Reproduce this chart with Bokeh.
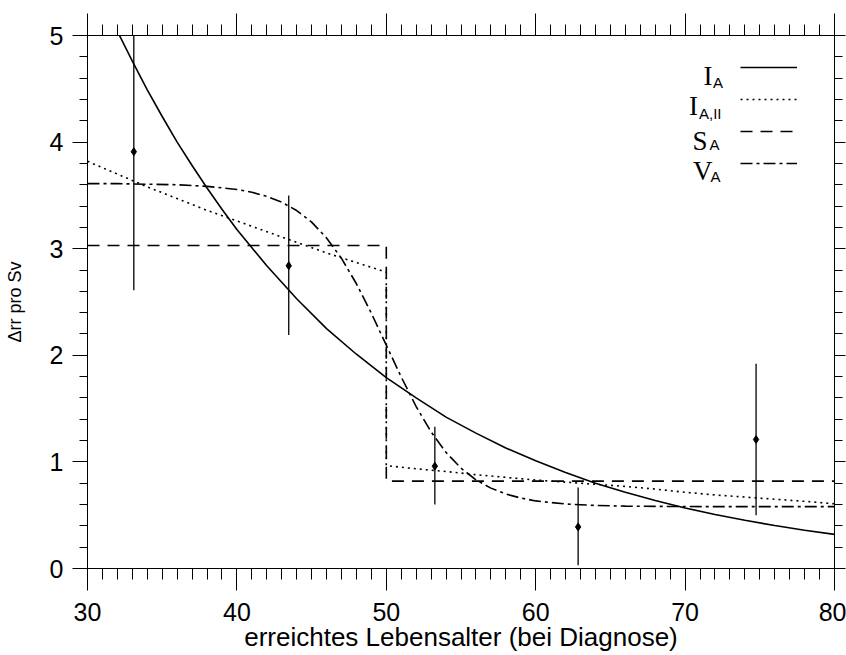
from bokeh.plotting import figure
from bokeh.models import (Range1d, LinearAxis, SingleIntervalTicker, Legend,
                          LegendItem, Label)
from bokeh.embed import file_html
from bokeh.resources import INLINE

# ---------------- data ----------------
pt_x = [33.1, 43.47, 53.25, 62.84, 74.75]
pt_y = [3.91, 2.84, 0.96, 0.39, 1.21]
pt_lo = [2.61, 2.19, 0.60, 0.03, 0.50]
pt_hi = [5.21, 3.50, 1.33, 0.76, 1.92]

ia_x = [30, 31, 32, 33, 34, 35, 36, 37, 38, 39, 40, 42, 44, 46, 48, 50, 52,
        54, 56, 58, 60, 62, 64, 66, 68, 70, 72, 74, 76, 78, 80]
ia_y = [5.65, 5.33, 5.04, 4.76, 4.49, 4.24, 4.00, 3.78, 3.57, 3.37, 3.18,
        2.84, 2.53, 2.25, 2.01, 1.79, 1.60, 1.42, 1.27, 1.13, 1.01, 0.90,
        0.80, 0.715, 0.637, 0.568, 0.507, 0.452, 0.403, 0.359, 0.320]

iaii_x = [30, 32, 34, 36, 38, 40, 42, 44, 46, 48, 50, 50, 52, 54, 56, 58,
          60, 62, 64, 66, 68, 70, 72, 74, 76, 78, 80]
iaii_y = [3.82, 3.70, 3.58, 3.47, 3.36, 3.26, 3.16, 3.06, 2.96, 2.87, 2.78,
          0.965, 0.935, 0.91, 0.88, 0.855, 0.83, 0.81, 0.79, 0.77, 0.745,
          0.715, 0.69, 0.67, 0.65, 0.63, 0.607]

sa_x = [30, 50, 50, 80]
sa_y = [3.03, 3.03, 0.82, 0.82]

va_x = [30, 32, 34, 36, 38, 40, 41, 42, 43, 44, 45, 46, 47, 48, 49, 50, 51,
        52, 53, 54, 55, 56, 57, 58, 59, 60, 62, 64, 66, 70, 75, 80]
va_y = [3.61, 3.61, 3.605, 3.60, 3.585, 3.556, 3.529, 3.491, 3.436, 3.358,
        3.249, 3.101, 2.909, 2.671, 2.394, 2.095, 1.796, 1.519, 1.281, 1.089,
        0.941, 0.832, 0.754, 0.699, 0.661, 0.634, 0.605, 0.591, 0.585, 0.581,
        0.58, 0.58]

legend_main = ["I", "I", "S", "V"]
legend_sub = ["A", "A,II", "A", "A"]

x_label = "erreichtes Lebensalter (bei Diagnose)"
y_label = "\u0394rr pro Sv"

# ---------------- figure ----------------
FONT = "Liberation Sans"
p = figure(width=846, height=655, x_range=Range1d(30, 80), y_range=Range1d(0, 5),
           output_backend="svg", toolbar_location=None,
           x_axis_location=None, y_axis_location=None,
           min_border_left=87, min_border_right=12,
           min_border_top=35, min_border_bottom=87)
p.grid.visible = False
p.outline_line_color = None
p.background_fill_color = "white"
p.border_fill_color = "white"


def style_axis(ax, tick_out, minor_out, labels=True):
    ax.major_tick_out = tick_out
    ax.major_tick_in = 0
    ax.minor_tick_out = minor_out
    ax.minor_tick_in = 0
    ax.axis_line_color = "black"
    ax.major_tick_line_color = "black"
    ax.minor_tick_line_color = "black"
    ax.axis_line_width = 1
    ax.major_label_text_font = FONT
    ax.major_label_text_color = "black"
    ax.major_label_text_font_size = "25px"
    ax.axis_label_text_font = FONT
    ax.axis_label_text_font_style = "normal"
    ax.axis_label_text_color = "black"
    if not labels:
        ax.major_label_overrides = {v: "" for v in range(0, 101)}
        ax.major_label_standoff = 0


xb = LinearAxis(ticker=SingleIntervalTicker(interval=10, num_minor_ticks=10),
                axis_label=x_label)
style_axis(xb, 22, 11)
xb.major_label_standoff = 12
xb.axis_label_text_font_size = "26px"
xb.axis_label_standoff = -2
p.add_layout(xb, "below")

xt = LinearAxis(ticker=SingleIntervalTicker(interval=10, num_minor_ticks=10))
style_axis(xt, 22, 11, labels=False)
p.add_layout(xt, "above")

yl = LinearAxis(ticker=SingleIntervalTicker(interval=1, num_minor_ticks=5),
                axis_label=y_label)
style_axis(yl, 15, 8)
yl.major_label_standoff = 9
yl.axis_label_text_font_size = "18px"
yl.axis_label_standoff = 22
p.add_layout(yl, "left")

yr = LinearAxis(ticker=SingleIntervalTicker(interval=1, num_minor_ticks=5))
style_axis(yr, 11, 8, labels=False)
p.add_layout(yr, "right")

# ---------------- curves ----------------
r_ia = p.line(ia_x, ia_y, line_color="black", line_width=1.6)
r_iaii = p.line(iaii_x, iaii_y, line_color="black", line_width=1.6, line_dash="2 4")
r_sa = p.line(sa_x, sa_y, line_color="black", line_width=1.6, line_dash="12 8")
r_va = p.line(va_x, va_y, line_color="black", line_width=1.6, line_dash="12 4 3 4")

# ---------------- data points with error bars ----------------
p.segment(x0=pt_x, y0=pt_lo, x1=pt_x, y1=pt_hi, line_color="black", line_width=1.3)
p.scatter(pt_x, pt_y, marker="diamond", size=8, fill_color="black", line_color="black")

# ---------------- legend ----------------
legend = Legend(items=[LegendItem(label=" ", renderers=[r]) for r in (r_ia, r_iaii, r_sa, r_va)],
                location=(653, 389), glyph_width=57, glyph_height=32,
                label_width=0, label_height=32, label_standoff=0,
                label_text_font_size="1px", padding=0, margin=0, spacing=0,
                border_line_color=None, background_fill_alpha=0)
p.add_layout(legend)


def px2x(px):
    return 30 + (px - 87) / (747 / 50)


def py2y(py):
    return (568 - py) / (533 / 5)


main_right = [712, 697.5, 707, 712]
main_base = [75, 105.7, 140, 170.7]
sub_left = [712.5, 698.5, 709, 710]
sub_base = [81.7, 112.7, 144, 176]
for i in range(4):
    p.add_layout(Label(x=px2x(main_right[i]), y=py2y(main_base[i]), text=legend_main[i],
                       text_font="Liberation Serif", text_font_size="27px",
                       text_align="right", text_baseline="alphabetic", text_color="black"))
    p.add_layout(Label(x=px2x(sub_left[i]), y=py2y(sub_base[i]), text=legend_sub[i],
                       text_font=FONT, text_font_size="15px",
                       text_align="left", text_baseline="alphabetic", text_color="black"))

open("out.html", "w").write(file_html(p, INLINE))
